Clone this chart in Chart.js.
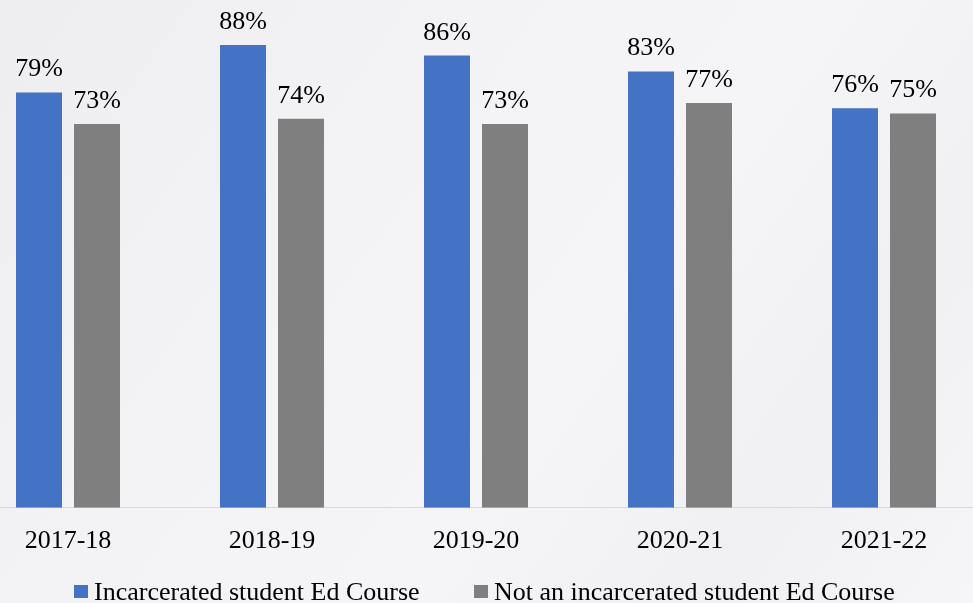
<!DOCTYPE html>
<html>
<head>
<meta charset="utf-8">
<script src="https://cdn.jsdelivr.net/npm/chart.js@4/dist/chart.umd.min.js"></script>
<style>
  html, body { margin: 0; padding: 0; }
  body {
    width: 973px; height: 603px; overflow: hidden; position: relative;
    font-family: 'Liberation Serif', 'Times New Roman', serif;
    background: linear-gradient(125deg, #eeeef1 0%, #f3f3f5 35%, #f5f5f7 60%, #f0f0f3 80%, #f6f6f8 100%);
  }
  #wrap { position: absolute; left: -34px; top: -18px; width: 1020px; height: 597px; }
  .leg { position: absolute; top: 576px; font-size: 26px; line-height: 31px; color: #000; white-space: nowrap; }
  .leg i { position: absolute; left: 0; top: 9px; width: 14px; height: 13px; }
  .leg span { position: absolute; white-space: nowrap; }
</style>
</head>
<body>
<div id="wrap"><canvas id="chart"></canvas></div>
<div id="legend"></div>
<script>
// categories and values (percent)
const years = ['2017-18', '2018-19', '2019-20', '2020-21', '2021-22'];
const incarcerated = [79, 88, 86, 83, 76];
const notIncarcerated = [73, 74, 73, 77, 75];

const seriesNames = ['Incarcerated student Ed Course', 'Not an incarcerated student Ed Course'];
const seriesColors = ['#4472C4', '#7F7F7F'];
const FONT = "'Liberation Serif', 'Times New Roman', serif";

// draws the % labels above each bar
const barLabels = {
    id: 'barLabels',
    afterDatasetsDraw(chart) {
        const ctx = chart.ctx;
        ctx.save();
        ctx.font = '26px ' + FONT;
        ctx.fillStyle = '#000';
        ctx.textAlign = 'center';
        ctx.textBaseline = 'alphabetic';
        chart.data.datasets.forEach((ds, i) => {
            chart.getDatasetMeta(i).data.forEach((bar, j) => {
                ctx.fillText(ds.data[j] + '%', bar.x, bar.y - 16);
            });
        });
        ctx.restore();
    }
};

const chart = new Chart(document.getElementById('chart'), {
    type: 'bar',
    data: {
        labels: years,
        datasets: seriesNames.map((name, i) => ({
            label: name,
            data: i === 0 ? incarcerated : notIncarcerated,
            backgroundColor: seriesColors[i]
        }))
    },
    options: {
        responsive: true,
        maintainAspectRatio: false,
        animation: false,
        datasets: {
            bar: { barPercentage: 0.793, categoryPercentage: 0.5686 }
        },
        layout: { padding: { top: 0, bottom: 4, left: 0, right: 0 } },
        scales: {
            x: {
                grid: { display: false, drawTicks: false },
                border: { color: '#d9d9d9', width: 1 },
                ticks: { color: '#000', font: { family: FONT, size: 26 }, padding: 18 }
            },
            y: {
                display: false,
                min: 0,
                max: 100
            }
        },
        plugins: {
            legend: { display: false },
            tooltip: { enabled: false }
        }
    },
    plugins: [barLabels]
});

// legend below the chart, built from the dataset names and colours
const legendLeft = [74, 474];
const legend = document.getElementById('legend');
chart.data.datasets.forEach((ds, i) => {
    const item = document.createElement('div');
    item.className = 'leg';
    item.style.left = legendLeft[i] + 'px';
    const box = document.createElement('i');
    box.style.background = ds.backgroundColor;
    const txt = document.createElement('span');
    txt.style.left = '20px';
    txt.textContent = ds.label;
    item.appendChild(box);
    item.appendChild(txt);
    legend.appendChild(item);
});
</script>
</body>
</html>
